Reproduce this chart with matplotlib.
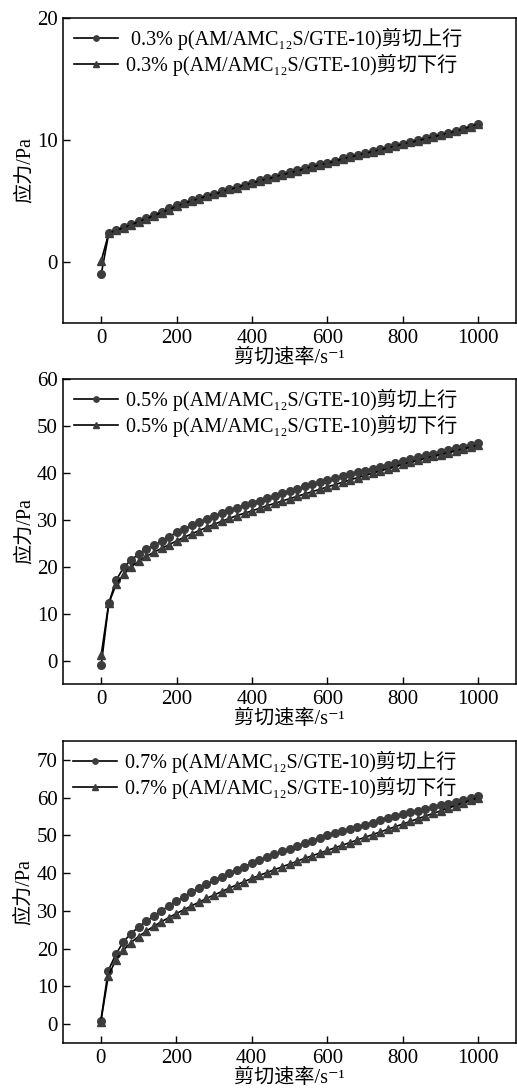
import matplotlib
matplotlib.use("Agg")
import matplotlib.pyplot as plt

plt.rcParams["font.family"] = ["Liberation Serif", "Noto Sans CJK SC", "DejaVu Serif"]
plt.rcParams["axes.unicode_minus"] = False

# shear rate, s^-1
shear_rate = list(range(0, 1001, 20))

# 0.3 %
up_03 = [-1.0, 2.35, 2.6, 2.85, 3.1, 3.35, 3.6, 3.85, 4.1, 4.4,
         4.65, 4.85, 5.05, 5.25, 5.45, 5.6, 5.8, 6.0, 6.15, 6.35,
         6.5, 6.7, 6.85, 7.0, 7.2, 7.35, 7.5, 7.7, 7.85, 8.0,
         8.15, 8.3, 8.5, 8.65, 8.8, 8.95, 9.1, 9.25, 9.4, 9.55,
         9.7, 9.85, 10.0, 10.15, 10.3, 10.45, 10.6, 10.75, 10.9, 11.1,
         11.3]
down_03 = [0.1, 2.35, 2.6, 2.8, 3.05, 3.3, 3.55, 3.8, 4.05, 4.3,
           4.55, 4.8, 5.0, 5.2, 5.4, 5.55, 5.75, 5.95, 6.1, 6.3,
           6.45, 6.65, 6.8, 6.95, 7.15, 7.3, 7.45, 7.65, 7.8, 7.95,
           8.1, 8.25, 8.45, 8.6, 8.75, 8.9, 9.05, 9.2, 9.35, 9.5,
           9.65, 9.8, 9.95, 10.1, 10.25, 10.4, 10.55, 10.7, 10.9, 11.1,
           11.3]

# 0.5 %
up_05 = [-1.0, 12.2, 17.2, 19.9, 21.5, 22.7, 23.7, 24.6, 25.5, 26.4,
         27.3, 28.05, 28.8, 29.5, 30.15, 30.8, 31.4, 32.0, 32.55, 33.1,
         33.6, 34.1, 34.6, 35.1, 35.6, 36.1, 36.6, 37.1, 37.6, 38.05,
         38.5, 38.9, 39.3, 39.7, 40.1, 40.5, 40.9, 41.3, 41.7, 42.15,
         42.6, 43.0, 43.35, 43.7, 44.1, 44.45, 44.8, 45.2, 45.55, 45.9,
         46.3]
down_05 = [1.2, 12.2, 16.3, 18.4, 20.0, 21.2, 22.2, 23.1, 23.9, 24.7,
           25.5, 26.25, 27.0, 27.7, 28.4, 29.05, 29.7, 30.3, 30.9, 31.4,
           31.9, 32.45, 33.0, 33.5, 34.0, 34.5, 35.0, 35.5, 36.0, 36.5,
           37.0, 37.5, 38.0, 38.5, 39.0, 39.45, 39.9, 40.4, 40.9, 41.35,
           41.8, 42.25, 42.65, 43.1, 43.5, 43.9, 44.3, 44.7, 45.1, 45.5,
           45.9]

# 0.7 %
up_07 = [0.8, 14.2, 18.5, 21.8, 24.0, 25.7, 27.2, 28.6, 30.0, 31.3,
         32.5, 33.75, 34.9, 36.0, 37.05, 38.05, 39.0, 39.95, 40.85, 41.75,
         42.6, 43.4, 44.2, 45.0, 45.75, 46.5, 47.2, 47.9, 48.6, 49.3,
         50.0, 50.6, 51.2, 51.75, 52.3, 52.85, 53.4, 53.95, 54.5, 55.05,
         55.6, 56.1, 56.55, 57.0, 57.5, 57.95, 58.4, 58.9, 59.35, 59.8,
         60.3]
down_07 = [0.5, 12.8, 17.0, 19.6, 21.6, 23.2, 24.6, 25.9, 27.1, 28.2,
           29.3, 30.3, 31.3, 32.3, 33.3, 34.2, 35.1, 36.0, 36.9, 37.75,
           38.6, 39.4, 40.15, 40.9, 41.65, 42.4, 43.15, 43.9, 44.6, 45.3,
           46.0, 46.7, 47.4, 48.1, 48.8, 49.5, 50.2, 50.9, 51.6, 52.3,
           53.0, 53.7, 54.4, 55.1, 55.8, 56.5, 57.2, 57.9, 58.6, 59.3,
           60.0]

concentrations = ["0.3%", "0.5%", "0.7%"]
ups = [up_03, up_05, up_07]
downs = [down_03, down_05, down_07]
ylims = [(-5, 20), (-5, 60), (-5, 75)]
yticks = [[0, 10, 20], list(range(0, 61, 10)), list(range(0, 71, 10))]

W, H = 517, 1091
fig = plt.figure(figsize=(W / 100, H / 100), dpi=100)

# axes boxes in pixels: (left, top, right, bottom)
boxes = [(63.5, 18, 516, 323), (63.5, 379, 516, 684), (63, 741, 516, 1043)]

polymer = " p(AM/AMC\u2081\u2082S/GTE-10)"
marker_color = "#3c3c3c"
for i in range(3):
    l, t, r, b = boxes[i]
    ax = fig.add_axes([l / W, 1 - b / H, (r - l) / W, (b - t) / H])
    c = concentrations[i]
    up_label = c + polymer + "剪切上行"
    if i == 0:
        up_label = " " + up_label
    ax.plot(shear_rate, ups[i], color="black", lw=1.2, marker="o", ms=5.5,
            mfc=marker_color, mec=marker_color, label=up_label)
    ax.plot(shear_rate, downs[i], color="black", lw=1.2, marker="^", ms=5.5,
            mfc=marker_color, mec=marker_color,
            label=c + polymer + "剪切下行")
    ax.set_xlim(-100, 1100)
    ax.set_ylim(*ylims[i])
    ax.set_xticks([0, 200, 400, 600, 800, 1000])
    ax.set_yticks(yticks[i])
    ax.tick_params(direction="in", length=5, width=1, labelsize=15, pad=4)
    for s in ax.spines.values():
        s.set_linewidth(1.1)
    ax.set_xlabel("剪切速率/s\u207b\u00b9", fontsize=14.5, labelpad=1)
    ax.set_ylabel("应力/Pa", fontsize=14.5, labelpad=2)
    ax.legend(loc="upper left", frameon=False, fontsize=14.5,
              handlelength=2.2, handletextpad=0.4, labelspacing=0.2,
              borderaxespad=0.1, markerscale=0.7)

fig.savefig("out.png", dpi=100)
